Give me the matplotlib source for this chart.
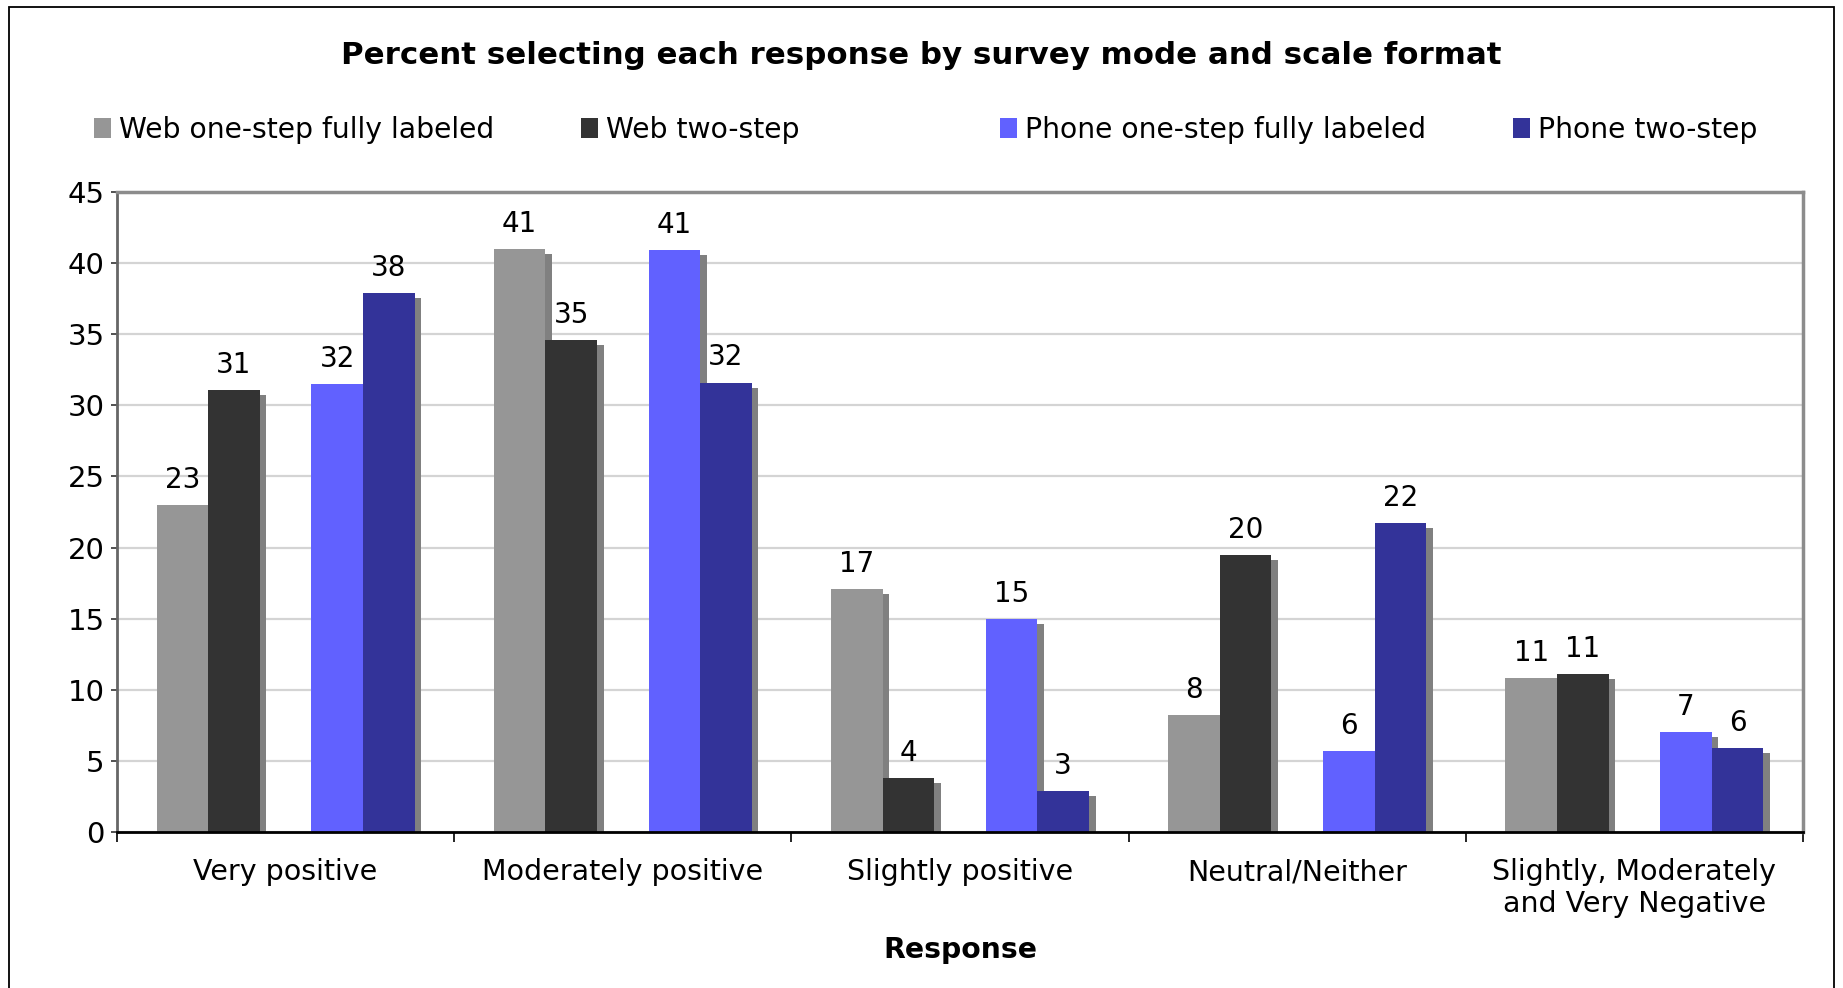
import matplotlib.pyplot as plt
import matplotlib.patheffects as pe
from matplotlib.patches import Patch, Rectangle
import numpy as np

categories = ["Very positive", "Moderately positive", "Slightly positive",
              "Neutral/Neither", "Slightly, Moderately\nand Very Negative"]
web_one_step = [23.0, 41.0, 17.1, 8.2, 10.8]
web_two_step = [31.1, 34.6, 3.8, 19.5, 11.1]
phone_one_step = [31.5, 40.9, 15.0, 5.7, 7.0]
phone_two_step = [37.9, 31.6, 2.9, 21.7, 5.9]
series_names = ["Web one-step fully labeled", "Web two-step",
                "Phone one-step fully labeled", "Phone two-step"]
colors = ["#969696", "#333333", "#6161ff", "#333399"]

plt.rcParams['font.family'] = ['DejaVu Sans']

W, H = 1843, 988
fig = plt.figure(figsize=(W / 100, H / 100), dpi=100)
ax = fig.add_axes([117 / W, 1 - 832 / H, (1803 - 117) / W, (832 - 192) / H])

x = np.arange(len(categories))
w = 0.153
offsets = [-1.5, -0.5, 0.5, 1.5]
shadow = [pe.SimplePatchShadow(offset=(4.8, -3.6), shadow_rgbFace='#808080', alpha=1.0),
          pe.Normal()]

all_series = [web_one_step, web_two_step, phone_one_step, phone_two_step]
# gap between the web pair and the phone pair
shift = [-0.5, -0.5, 0.5, 0.5]
for vals, off, sh, col in zip(all_series, offsets, shift, colors):
    pos = x + (off + sh) * w
    bars = ax.bar(pos, vals, width=w, color=col, edgecolor='none', zorder=2)
    for b in bars:
        b.set_path_effects(shadow)
    ax.bar_label(bars, labels=[str(int(v + 0.5)) for v in vals],
                 padding=8, fontsize=20, color='black')

ax.set_ylim(0, 45)
ax.set_yticks(np.arange(0, 46, 5))
ax.set_xlim(-0.5, len(categories) - 0.5)
ax.set_xticks(np.arange(-0.5, len(categories), 1.0))
ax.set_xticklabels([])
ax.set_xticks(x, minor=True)
ax.set_xticklabels(categories, minor=True, fontsize=20.5, linespacing=1.15)
ax.tick_params(axis='x', which='major', direction='out', length=7, width=1.2, color='black')
ax.tick_params(axis='x', which='minor', length=0, pad=19)
ax.tick_params(axis='y', direction='out', length=4, width=1.2, color='#333333',
               labelsize=21, pad=5)

ax.yaxis.grid(True, color='#d4d4d4', linewidth=1.6)
ax.set_axisbelow(True)

ax.spines['left'].set_color('#666666')
ax.spines['left'].set_linewidth(2)
ax.spines['bottom'].set_color('black')
ax.spines['bottom'].set_linewidth(2)
for s in ['top', 'right']:
    ax.spines[s].set_color('#8c8c8c')
    ax.spines[s].set_linewidth(2.5)

ax.set_xlabel("Response", fontsize=20.3, fontweight='bold', labelpad=13)
fig.suptitle("Percent selecting each response by survey mode and scale format",
             fontsize=22.2, fontweight='bold', x=0.5, y=1 - 56 / H, va='center')

legend_x = [94, 581, 1000, 1513]
for name, col, lx in zip(series_names, colors, legend_x):
    fig.legend(handles=[Patch(facecolor=col, edgecolor='none')], labels=[name],
               loc='center left', bbox_to_anchor=(lx / W, 1 - 130 / H),
               frameon=False, borderpad=0, borderaxespad=0, fontsize=20.3,
               handlelength=0.6, handleheight=0.7, handletextpad=0.3)

# outer chart border
fig.add_artist(Rectangle((9 / W, -0.05), (1834 - 9) / W, 1.05 - 7 / H,
                         transform=fig.transFigure, fill=False,
                         edgecolor='black', linewidth=1.3))

fig.savefig("out.png", dpi=100)
